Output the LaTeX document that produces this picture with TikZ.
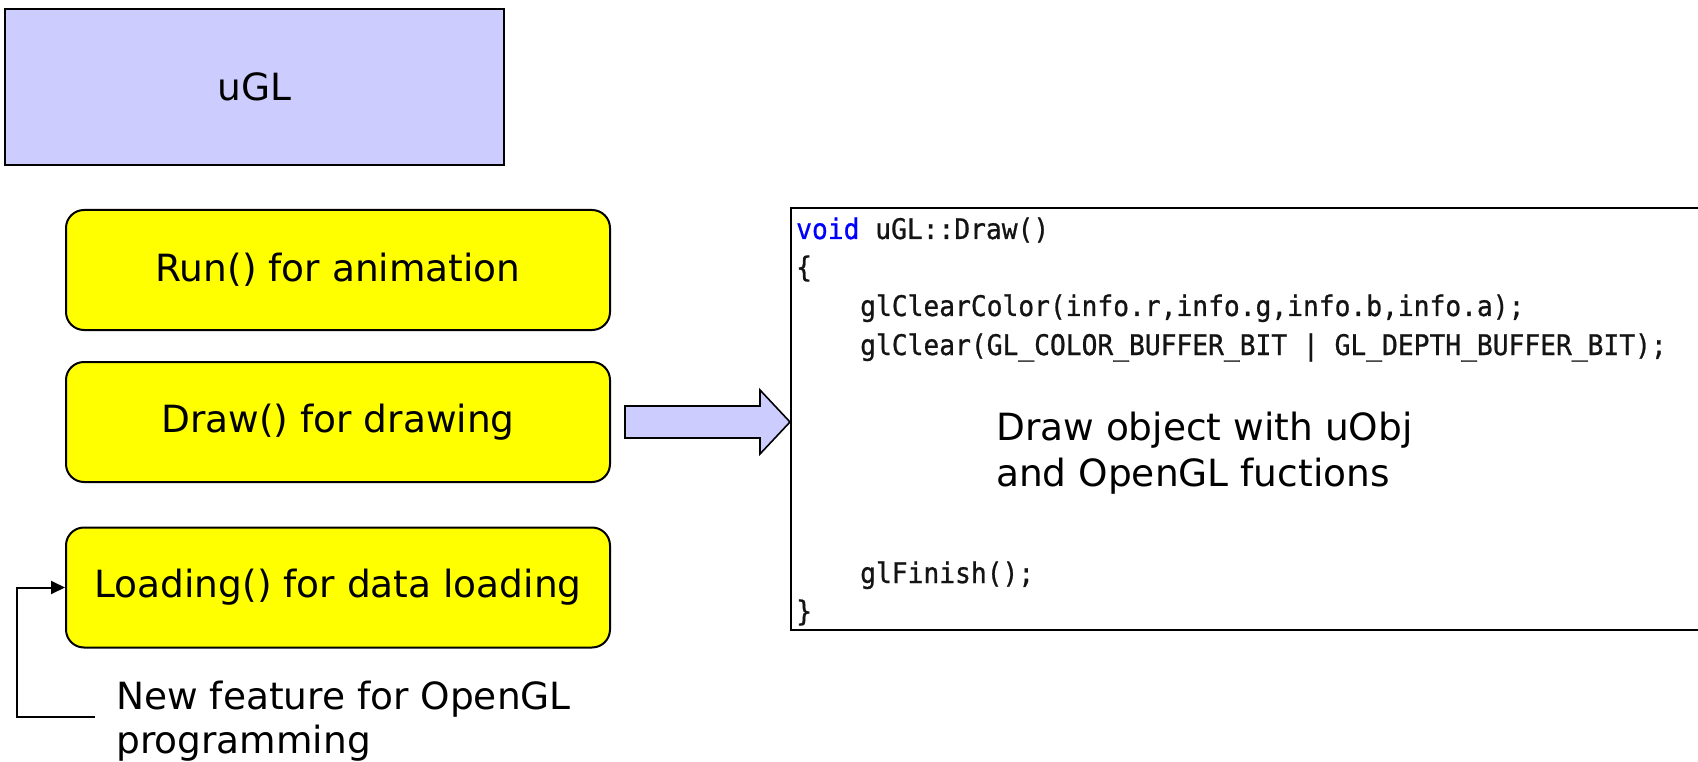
\documentclass[tikz,border=0pt]{standalone}
\usepackage{fontspec}
\setmainfont{DejaVu Sans}
\newfontfamily\codefont[FakeStretch=0.925,FakeBold=0.8]{DejaVu Sans Mono}
\usetikzlibrary{arrows.meta,calc}
\definecolor{lav}{RGB}{204,204,255}
\definecolor{hl}{RGB}{255,255,0}
\definecolor{kw}{RGB}{0,0,255}
\definecolor{ink}{RGB}{20,20,20}

\begin{document}
\begin{tikzpicture}[x=1pt,y=-1pt,
  every node/.style={font=\fontsize{37.5}{47}\selectfont},
  classbox/.style={draw, line width=2pt, fill=lav, rectangle,
    minimum width=499pt, minimum height=156pt, inner sep=0pt},
  funcbox/.style={draw, line width=2pt, fill=hl, rectangle, rounded corners=18pt,
    minimum width=544pt, minimum height=120pt, inner sep=0pt},
  codebox/.style={draw, line width=2pt, fill=white, rectangle,
    minimum width=909pt, minimum height=422pt, inner sep=0pt},
  codeline/.style={anchor=base west, inner sep=0pt, text=ink,
    font=\codefont\fontsize{28.4}{38}\selectfont},
  note/.style={anchor=north west, inner sep=0pt, align=left},
  link/.style={line width=2pt, -{Triangle[length=14pt,width=13pt]}},
  blockarrow/.style={draw, line width=1.6pt, fill=lav, line join=miter}
]
\useasboundingbox (0,0) rectangle (1698,762);

% class box
\node[classbox] (ugl) at (254.5,87) {\raisebox{-3pt}{uGL}};

% member functions
\node[funcbox] (run)  at (338,270)   {\raisebox{-2pt}{Run() for animation}};
\node[funcbox] (drw)  at (338,422)   {\raisebox{-2pt}{Draw() for drawing}};
\node[funcbox] (load) at (338,587.5) {\raisebox{-2pt}{Loading() for data loading}};

% body of uGL::Draw()
\node[codebox] (code) at (1245.5,419) {};
\node[codeline] (c1) at (796,239) {\textcolor{kw}{void} uGL::Draw()};
\node[codeline] (c2) at (796,277) {\{};
\node[codeline] (c3) at (860,316) {glClearColor(info.r,info.g,info.b,info.a);};
\node[codeline] (c4) at (860,355) {glClear(GL\_COLOR\_BUFFER\_BIT | GL\_DEPTH\_BUFFER\_BIT);};
\node[codeline] (c5) at (860,583) {glFinish();};
\node[codeline] (c6) at (796,621) {\}};
\node[note, font=\fontsize{37.5}{45.5}\selectfont] (obj) at (996,412)
  {Draw object with uObj\\and OpenGL fuctions};

% block arrow from Draw() to its body
\coordinate (bs) at ($(drw.east)+(14,0)$);
\coordinate (bt) at (code.west |- drw.east);
\draw[blockarrow] ($(bs)+(0,-16)$) -- ($(bt)+(-30,-16)$) -- ($(bt)+(-30,-32)$)
  -- (bt) -- ($(bt)+(-30,32)$) -- ($(bt)+(-30,16)$) -- ($(bs)+(0,16)$) -- cycle;

% annotation for Loading()
\node[note, font=\fontsize{37.5}{44}\selectfont] (feat) at (116,681)
  {New feature for OpenGL\\programming};
\coordinate (fs) at (95,717);
\draw[link] (fs) -- ++(-78,0) |- (load.west);
\end{tikzpicture}
\end{document}
